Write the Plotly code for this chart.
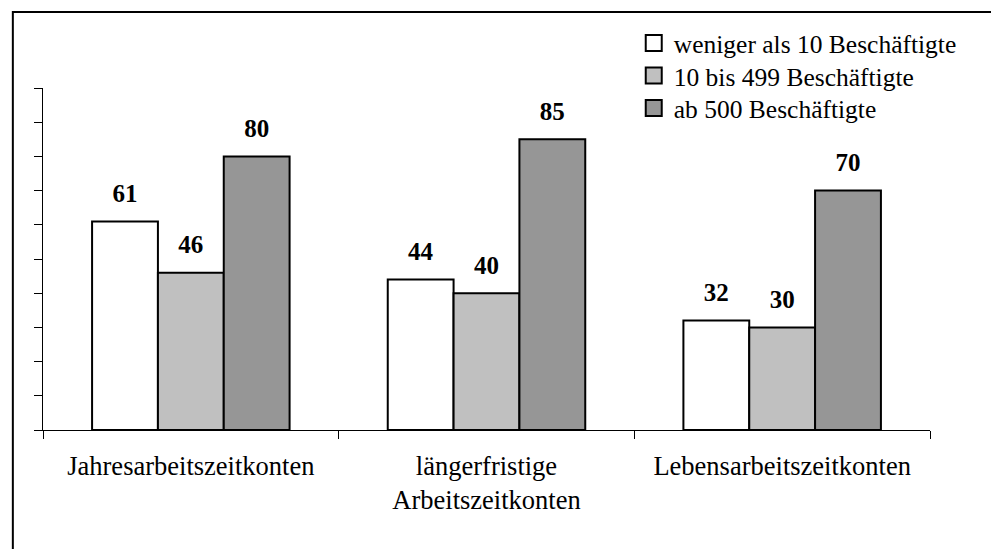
import plotly.graph_objects as go

categories = ["Jahresarbeitszeitkonten", "längerfristige<br>Arbeitszeitkonten", "Lebensarbeitszeitkonten"]
series_names = ["weniger als 10 Beschäftigte", "10 bis 499 Beschäftigte", "ab 500 Beschäftigte"]
small = [61, 44, 32]
medium = [46, 40, 30]
large = [80, 85, 70]

colors = ["#FFFFFF", "#C0C0C0", "#969696"]
legend_ids = ["legend", "legend2", "legend3"]
legend_y = [1.130, 1.035, 0.940]
FONT = "Liberation Serif"

fig = go.Figure()

for name, vals, col in zip(series_names, [small, medium, large], colors):
    fig.add_trace(go.Bar(
        x=categories,
        y=vals,
        name=name,
        showlegend=False,
        marker=dict(color=col, line=dict(color="#000000", width=2)),
        # trailing small line lifts the number a bit higher above the bar
        text=["<span style='font-size:25px'><b>" + str(v) + "</b></span><br>\u00a0" for v in vals],
        textposition="outside",
        textfont=dict(family=FONT, size=11, color="#000000"),
        cliponaxis=False,
    ))

# legend-only entries, so the legend boxes can be drawn larger than bar icons
for name, col, lg in zip(series_names, colors, legend_ids):
    fig.add_trace(go.Scatter(
        x=[None], y=[None],
        mode="markers",
        name=name,
        legend=lg,
        marker=dict(symbol="square", size=16, color=col, line=dict(color="#000000", width=2)),
    ))

fig.add_shape(
    type="rect", xref="paper", yref="paper",
    x0=-0.034, x1=1.3, y0=-0.6, y1=1.222,
    line=dict(color="#000000", width=2),
    fillcolor="rgba(0,0,0,0)",
)

legend_style = dict(
    x=0.666, xanchor="left", yanchor="middle",
    font=dict(family=FONT, size=25.5),
    bgcolor="rgba(0,0,0,0)",
)

fig.update_layout(
    plot_bgcolor="#FFFFFF",
    paper_bgcolor="#FFFFFF",
    font=dict(family=FONT, size=25, color="#000000"),
    barmode="group",
    bargap=0.332,
    bargroupgap=0,
    width=991,
    height=549,
    margin=dict(l=43, r=61, t=88, b=119, autoexpand=False),
    xaxis=dict(
        showline=True, linecolor="#000000", linewidth=1,
        ticks="outside", tickson="boundaries", ticklen=8, tickcolor="#000000",
        showgrid=False, zeroline=False,
        tickfont=dict(family=FONT, size=26.5),
        ticklabelstandoff=12,
    ),
    yaxis=dict(
        range=[0, 100], dtick=10,
        showline=True, linecolor="#000000", linewidth=1,
        ticks="outside", ticklen=8, tickcolor="#000000",
        showticklabels=False, showgrid=False, zeroline=False,
    ),
    legend=dict(y=legend_y[0], **legend_style),
    legend2=dict(y=legend_y[1], **legend_style),
    legend3=dict(y=legend_y[2], **legend_style),
)

# page body has a default margin; remove it so the chart fills the window
fig.write_html(
    "out.html",
    config={"displayModeBar": False},
    post_script="document.body.style.margin='0';",
)
